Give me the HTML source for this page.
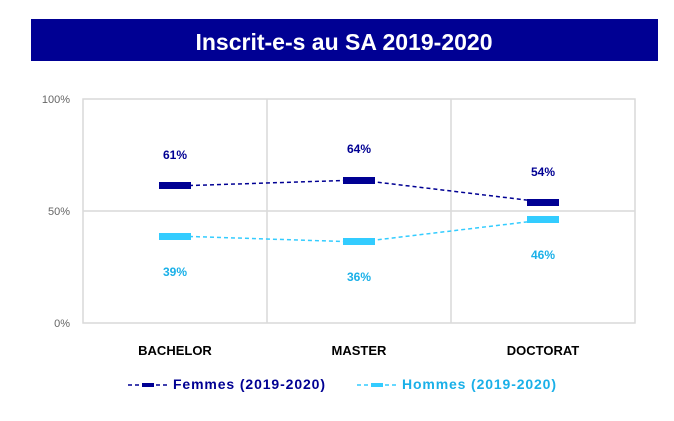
<!DOCTYPE html>
<html><head><meta charset="utf-8"><style>
body{margin:0;background:#fff;width:674px;height:416px;overflow:hidden;font-family:"Liberation Sans",sans-serif}
</style></head><body>
<svg width="674" height="416" xmlns="http://www.w3.org/2000/svg" font-family="Liberation Sans, sans-serif">
<rect x="31" y="19" width="627" height="42" fill="#000093"/>
<text x="344" y="50" text-anchor="middle" font-size="23" font-weight="bold" fill="#fff">Inscrit-e-s au SA 2019-2020</text>
<g stroke="#d9d9d9" stroke-width="1.5" fill="none">
<rect x="83" y="99" width="552" height="224"/>
<line x1="267" y1="99" x2="267" y2="323"/>
<line x1="451" y1="99" x2="451" y2="323"/>
<line x1="83" y1="211" x2="635" y2="211"/>
</g>
<g font-size="11" fill="#666" text-anchor="end">
<text x="70" y="103">100%</text><text x="70" y="215">50%</text><text x="70" y="327">0%</text>
</g>
<polyline points="175,186 359,180 543,202" fill="none" stroke="#000093" stroke-width="1.5" stroke-dasharray="4,3"/>
<polyline points="175,236 359,242 543,220" fill="none" stroke="#33ccff" stroke-width="1.5" stroke-dasharray="4,3"/>
<g fill="#000093"><rect x="159" y="182" width="32" height="7"/><rect x="343" y="177" width="32" height="7"/><rect x="527" y="199" width="32" height="7"/></g>
<g fill="#33ccff"><rect x="159" y="233" width="32" height="7"/><rect x="343" y="238" width="32" height="7"/><rect x="527" y="216" width="32" height="7"/></g>
<g font-size="12" font-weight="bold" text-anchor="middle" fill="#000093">
<text x="175" y="159">61%</text><text x="359" y="153">64%</text><text x="543" y="176">54%</text></g>
<g font-size="12" font-weight="bold" text-anchor="middle" fill="#1ab0e8">
<text x="175" y="276">39%</text><text x="359" y="281">36%</text><text x="543" y="259">46%</text></g>
<g font-size="13" font-weight="bold" text-anchor="middle" fill="#000">
<text x="175" y="355">BACHELOR</text><text x="359" y="355">MASTER</text><text x="543" y="355">DOCTORAT</text></g>
<line x1="128" y1="385" x2="169" y2="385" stroke="#000093" stroke-width="1.5" stroke-dasharray="4,3"/>
<rect x="142" y="383" width="12" height="4" fill="#000093"/>
<text x="173" y="389" font-size="14" font-weight="bold" fill="#000093" textLength="152">Femmes (2019-2020)</text>
<line x1="357" y1="385" x2="398" y2="385" stroke="#33ccff" stroke-width="1.5" stroke-dasharray="4,3"/>
<rect x="371" y="383" width="12" height="4" fill="#33ccff"/>
<text x="402" y="389" font-size="14" font-weight="bold" fill="#1ab0e8" textLength="154">Hommes (2019-2020)</text>
</svg>
</body></html>
